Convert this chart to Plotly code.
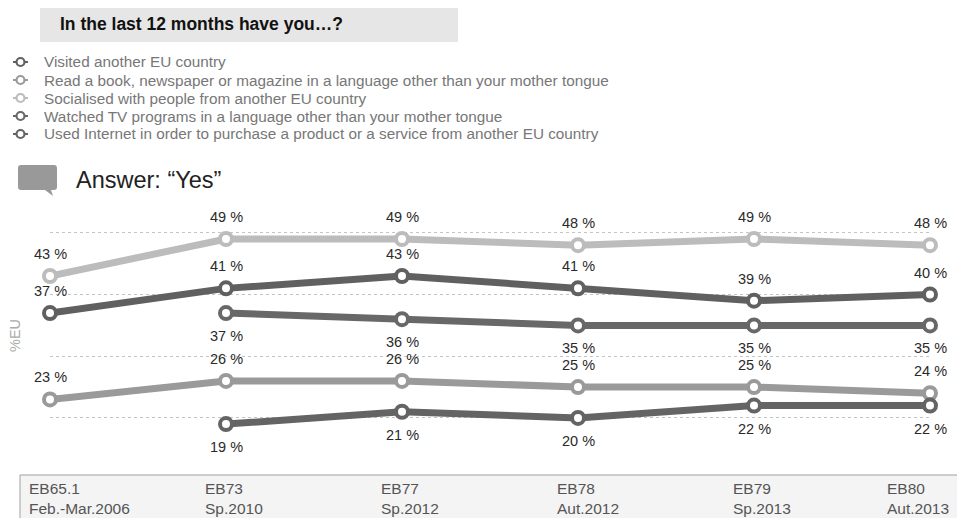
import plotly.graph_objects as go

W, H = 957, 518

# ---------------- data ----------------
categories = ["EB65.1", "EB73", "EB77", "EB78", "EB79", "EB80"]
periods = ["Feb.-Mar.2006", "Sp.2010", "Sp.2012", "Aut.2012", "Sp.2013", "Aut.2013"]

series_names = [
    "Visited another EU country",
    "Read a book, newspaper or magazine in a language other than your mother tongue",
    "Socialised with people from another EU country",
    "Watched TV programs in a language other than your mother tongue",
    "Used Internet in order to purchase a product or a service from another EU country",
]
visited = [37, 41, 43, 41, 39, 40]
read_book = [23, 26, 26, 25, 25, 24]
socialised = [43, 49, 49, 48, 49, 48]
watched_tv = [None, 37, 36, 35, 35, 35]
internet = [None, 19, 21, 20, 22, 22]

series_values = [visited, read_book, socialised, watched_tv, internet]
series_colors = ["#606060", "#9a9a9a", "#bcbcbc", "#686868", "#646464"]
label_above = [True, True, True, False, False]

# ---------------- helpers ----------------
def X(px):
    return px / W


def Y(py):
    return 1 - py / H


FONT = "Liberation Sans, Arial, Helvetica, sans-serif"

fig = go.Figure()
xs = list(range(len(categories)))

for name, vals, col in zip(series_names, series_values, series_colors):
    fig.add_trace(go.Scatter(
        x=xs, y=vals, name=name, mode="lines+markers",
        line=dict(color=col, width=7),
        marker=dict(size=12, color="white", line=dict(color=col, width=4)),
        cliponaxis=False, showlegend=False, hoverinfo="skip",
    ))

annotations = []
# data labels
for vals, above in zip(series_values, label_above):
    for i, v in enumerate(vals):
        if v is None:
            continue
        annotations.append(dict(
            x=i, y=v, xref="x", yref="y", text=f"{v} %", showarrow=False,
            yshift=22 if above else -23,
            font=dict(family=FONT, size=14.5, color="#2a2a2a"),
        ))

# category labels in bottom box
for i, (c, p) in enumerate(zip(categories, periods)):
    last = i == len(categories) - 1
    for txt, py in ((c, 488), (p, 508)):
        annotations.append(dict(
            x=i, y=Y(py), xref="x", yref="paper", text=txt, showarrow=False,
            xanchor="left", yanchor="middle",
            xshift=-45 if last else -23,
            font=dict(family=FONT, size=15.5, color="#555555"),
        ))

# title
annotations.append(dict(
    x=X(58), y=Y(24), xref="paper", yref="paper", xanchor="left", yanchor="middle",
    text="<b>In the last 12 months have you…?</b>", showarrow=False,
    font=dict(family=FONT, size=17.5, color="#111111"),
))

# legend
legend_rows = [62, 80, 98, 116, 134]
shapes = []
for name, col, py in zip(series_names, series_colors, legend_rows):
    annotations.append(dict(
        x=X(42), y=Y(py), xref="paper", yref="paper", xanchor="left", yanchor="middle",
        text=name, showarrow=False,
        font=dict(family=FONT, size=15.3, color="#777777"),
    ))
    shapes.append(dict(type="line", xref="paper", yref="paper",
                       x0=X(13), x1=X(28), y0=Y(py), y1=Y(py),
                       line=dict(color=col, width=2)))
    shapes.append(dict(type="circle", xref="paper", yref="paper",
                       x0=X(16.5), x1=X(24.5), y0=Y(py + 4), y1=Y(py - 4),
                       fillcolor="white", line=dict(color=col, width=2.2)))

# "Answer: Yes"
annotations.append(dict(
    x=X(74), y=Y(180), xref="paper", yref="paper", xanchor="left", yanchor="middle",
    text="Answer: “Yes”", showarrow=False,
    font=dict(family=FONT, size=23.5, color="#222222"),
))

# y-axis title
annotations.append(dict(
    x=X(15), y=Y(335), xref="paper", yref="paper", xanchor="center", yanchor="middle",
    text="%EU", textangle=-90, showarrow=False,
    font=dict(family=FONT, size=14.5, color="#aaaaaa"),
))

# title background box
shapes.append(dict(type="rect", xref="paper", yref="paper", layer="below",
                   x0=X(40), x1=X(458), y0=Y(42), y1=Y(8),
                   fillcolor="#e6e6e6", line=dict(width=0)))

# speech bubble icon
def pp(px, py):
    return f"{X(px):.5f},{Y(py):.5f}"

bubble = ("M " + pp(21, 165) + " L " + pp(54, 165) + " Q " + pp(57, 165) + " " + pp(57, 168)
          + " L " + pp(57, 187) + " Q " + pp(57, 190) + " " + pp(54, 190)
          + " L " + pp(51, 190) + " L " + pp(53, 196) + " L " + pp(45, 190)
          + " L " + pp(21, 190) + " Q " + pp(18, 190) + " " + pp(18, 187)
          + " L " + pp(18, 168) + " Q " + pp(18, 165) + " " + pp(21, 165) + " Z")
shapes.append(dict(type="path", xref="paper", yref="paper", path=bubble,
                   fillcolor="#999999", line=dict(width=0)))

# bottom category box
shapes.append(dict(type="rect", xref="paper", yref="paper", layer="below",
                   x0=X(20), x1=X(970), y0=Y(530), y1=Y(475),
                   fillcolor="#f4f4f4", line=dict(color="#a0a0a0", width=1)))

# y scale: 6.17 px per percentage point, 49% at y=239
ppu = 6.17
y_top, y_bot = 52, 17
py_top = 239 - (y_top - 49) * ppu
py_bot = 239 + (49 - y_bot) * ppu

fig.update_layout(
    width=W, height=H,
    margin=dict(l=0, r=0, t=0, b=0),
    paper_bgcolor="white", plot_bgcolor="white",
    showlegend=False,
    xaxis=dict(domain=[X(50), X(930)], range=[0, 5], showgrid=False, zeroline=False,
               showticklabels=False, showline=False, fixedrange=True),
    yaxis=dict(domain=[Y(py_bot), Y(py_top)], range=[y_bot, y_top],
               tickvals=[20, 30, 40, 50], showgrid=True, gridcolor="#c4c4c4",
               griddash="dot", gridwidth=1, zeroline=False, showticklabels=False,
               showline=False, fixedrange=True),
    annotations=annotations,
    shapes=shapes,
)

fig.write_html("out.html")
